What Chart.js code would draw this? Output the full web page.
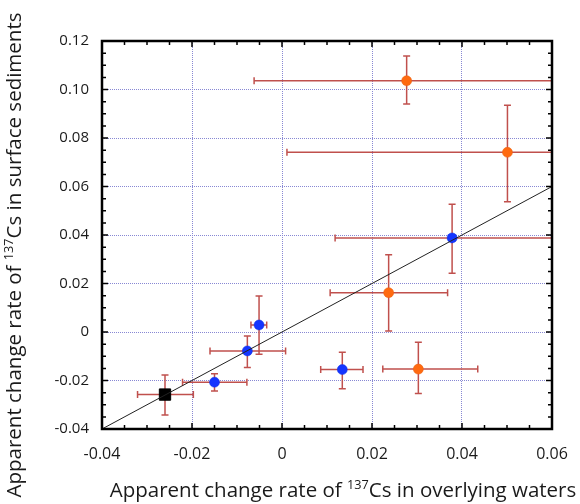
<!DOCTYPE html>
<html lang="en">
<head>
<meta charset="UTF-8">
<title>Apparent change rate of 137Cs</title>
<script src="https://cdn.jsdelivr.net/npm/chart.js"></script>
<style>
  html, body { margin: 0; padding: 0; background: #fff; }
</style>
</head>
<body>
<canvas id="myChart" width="580" height="504"></canvas>
<script>
// blue points: centre and error bar ends
const blueX   = [0.0378, -0.0051, -0.0077, -0.0150, 0.0134];
const blueY   = [0.0388, 0.0029, -0.0078, -0.0207, -0.0155];
const blueXLo = [0.0118, -0.0069, -0.0160, -0.0221, 0.0086];
const blueXHi = [0.0638, -0.0034, 0.0008, -0.0078, 0.0180];
const blueYLo = [0.0242, -0.0092, -0.0146, -0.0243, -0.0234];
const blueYHi = [0.0527, 0.0148, -0.0017, -0.0172, -0.0084];

// orange points
const orangeX   = [0.0277, 0.0501, 0.0237, 0.0303];
const orangeY   = [0.1036, 0.0741, 0.0162, -0.0153];
const orangeXLo = [-0.0062, 0.0011, 0.0107, 0.0224];
const orangeXHi = [0.0617, 0.0990, 0.0368, 0.0435];
const orangeYLo = [0.0940, 0.0537, 0.0004, -0.0254];
const orangeYHi = [0.1138, 0.0935, 0.0319, -0.0042];

// black square
const blackX   = [-0.0260];
const blackY   = [-0.0258];
const blackXLo = [-0.0321];
const blackXHi = [-0.0197];
const blackYLo = [-0.0342];
const blackYHi = [-0.0177];

// 1:1 line
const lineX = [-0.04, 0.06];
const lineY = [-0.04, 0.06];

const xTitle = [['Apparent change rate of ', false], ['137', true], ['Cs in overlying waters', false]];
const yTitle = [['Apparent change rate of ', false], ['137', true], ['Cs in surface sediments', false]];

const barColor = '#c0504d';
const gridColor = '#8888d4';
const fontFam = '"Open Sans", sans-serif';

const pack = (xs, ys, xlo, xhi, ylo, yhi) =>
  xs.map((v, i) => ({ x: v, y: ys[i], xLo: xlo[i], xHi: xhi[i], yLo: ylo[i], yHi: yhi[i] }));

// error bars under the markers
const errorBars = {
  id: 'errorBars',
  beforeDatasetsDraw(chart) {
    const { ctx, chartArea: a, scales: { x, y } } = chart;
    ctx.save();
    ctx.beginPath();
    ctx.rect(a.left, a.top, a.right - a.left, a.bottom - a.top);
    ctx.clip();
    ctx.strokeStyle = barColor;
    ctx.lineWidth = 1.5;
    const cap = 3.5;
    chart.data.datasets.forEach(ds => {
      if (!ds.errorBars) return;
      ds.data.forEach(p => {
        const px = x.getPixelForValue(p.x), py = y.getPixelForValue(p.y);
        const x0 = x.getPixelForValue(p.xLo), x1 = x.getPixelForValue(p.xHi);
        const y0 = y.getPixelForValue(p.yLo), y1 = y.getPixelForValue(p.yHi);
        ctx.beginPath();
        ctx.moveTo(x0, py); ctx.lineTo(x1, py);
        ctx.moveTo(x0, py - cap); ctx.lineTo(x0, py + cap);
        ctx.moveTo(x1, py - cap); ctx.lineTo(x1, py + cap);
        ctx.moveTo(px, y0); ctx.lineTo(px, y1);
        ctx.moveTo(px - cap, y0); ctx.lineTo(px + cap, y0);
        ctx.moveTo(px - cap, y1); ctx.lineTo(px + cap, y1);
        ctx.stroke();
      });
    });
    ctx.restore();
  }
};

function richWidth(ctx, parts, size) {
  let w = 0;
  parts.forEach(([t, sup]) => {
    ctx.font = (sup ? size * 0.62 : size) + 'px ' + fontFam;
    w += ctx.measureText(t).width;
  });
  return w;
}
function drawRich(ctx, parts, size, x0, base) {
  let x = x0;
  parts.forEach(([t, sup]) => {
    ctx.font = (sup ? size * 0.62 : size) + 'px ' + fontFam;
    ctx.fillText(t, x, sup ? base - size * 0.38 : base);
    x += ctx.measureText(t).width;
  });
}

// frame, inward ticks on all sides, axis titles
const frame = {
  id: 'frame',
  afterDraw(chart) {
    const { ctx, chartArea: a, scales: { x, y } } = chart;
    ctx.save();
    ctx.strokeStyle = '#000';
    ctx.lineWidth = 1.5;
    ctx.beginPath();
    for (let k = 0; k <= 20; k++) {
      const len = k % 4 === 0 ? 6 : 4;
      const px = x.getPixelForValue(x.min + k * 0.005);
      ctx.moveTo(px, a.bottom); ctx.lineTo(px, a.bottom - len);
      ctx.moveTo(px, a.top); ctx.lineTo(px, a.top + len);
    }
    for (let k = 0; k <= 32; k++) {
      const len = k % 4 === 0 ? 6 : 4;
      const py = y.getPixelForValue(y.min + k * 0.005);
      ctx.moveTo(a.left, py); ctx.lineTo(a.left + len, py);
      ctx.moveTo(a.right, py); ctx.lineTo(a.right - len, py);
    }
    ctx.stroke();
    ctx.lineWidth = 2.5;
    ctx.strokeRect(a.left, a.top, a.right - a.left, a.bottom - a.top);

    ctx.fillStyle = '#1a1a1a';
    ctx.textBaseline = 'alphabetic';
    ctx.textAlign = 'left';
    const size = 20.5;
    const wx = richWidth(ctx, xTitle, size);
    drawRich(ctx, xTitle, size, 343 - wx / 2, 497);
    const wy = richWidth(ctx, yTitle, size);
    ctx.translate(21, 255);
    ctx.rotate(-Math.PI / 2);
    drawRich(ctx, yTitle, size, -wy / 2, 0);
    ctx.restore();
  }
};

const fmt = v => (Math.abs(v) < 1e-9 ? '0' : v.toFixed(2));

new Chart(document.getElementById('myChart'), {
  type: 'scatter',
  data: {
    datasets: [
      {
        type: 'line',
        data: lineX.map((v, i) => ({ x: v, y: lineY[i] })),
        borderColor: '#222',
        borderWidth: 1,
        pointRadius: 0,
        fill: false
      },
      {
        data: pack(blueX, blueY, blueXLo, blueXHi, blueYLo, blueYHi),
        errorBars: true,
        backgroundColor: '#1535ff',
        borderColor: '#1030e0',
        borderWidth: 0.5,
        pointRadius: 5
      },
      {
        data: pack(orangeX, orangeY, orangeXLo, orangeXHi, orangeYLo, orangeYHi),
        errorBars: true,
        backgroundColor: '#ff6a10',
        borderColor: '#e86010',
        borderWidth: 0.5,
        pointRadius: 5
      },
      {
        data: pack(blackX, blackY, blackXLo, blackXHi, blackYLo, blackYHi),
        errorBars: true,
        backgroundColor: '#000',
        borderColor: '#000',
        pointStyle: 'rect',
        pointRadius: 8
      }
    ]
  },
  options: {
    responsive: false,
    animation: false,
    layout: { padding: { left: 0, top: 41, right: 28, bottom: 0 } },
    plugins: { legend: { display: false }, tooltip: { enabled: false } },
    scales: {
      x: {
        type: 'linear',
        min: -0.04,
        max: 0.06,
        afterFit: s => { s.height = 75; s.paddingLeft = 0; s.paddingRight = 0; },
        ticks: {
          stepSize: 0.02,
          padding: 16,
          color: '#1a1a1a',
          font: { family: fontFam, size: 16 },
          callback: fmt
        },
        grid: { color: gridColor, lineWidth: 1, drawTicks: false },
        border: { display: false, dash: [1, 1] }
      },
      y: {
        type: 'linear',
        min: -0.04,
        max: 0.12,
        afterFit: s => { s.width = 102; s.paddingTop = 0; s.paddingBottom = 0; },
        ticks: {
          stepSize: 0.02,
          padding: 13,
          color: '#1a1a1a',
          font: { family: fontFam, size: 15 },
          callback: fmt
        },
        grid: { color: gridColor, lineWidth: 1, drawTicks: false },
        border: { display: false, dash: [1, 1] }
      }
    }
  },
  plugins: [errorBars, frame]
});
</script>
</body>
</html>
